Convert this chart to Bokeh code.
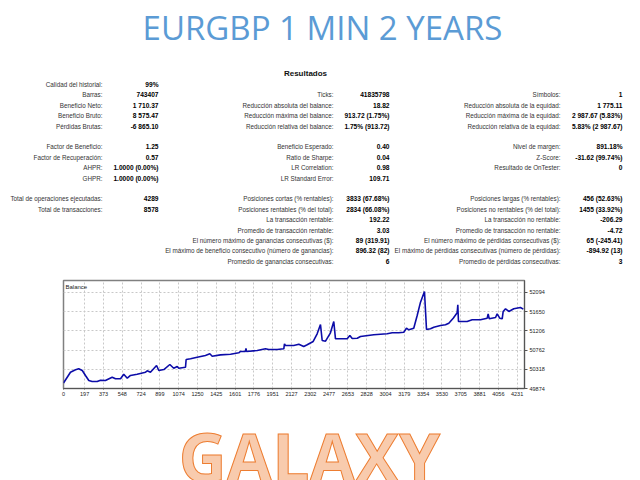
from bokeh.plotting import figure
from bokeh.models import Label, FixedTicker, Range1d, ColumnDataSource
from bokeh.layouts import column
from bokeh.core.properties import value
from bokeh.embed import file_html
from bokeh.resources import INLINE

# ---------------- data ----------------
trade_no = [0, 65, 112, 142, 175, 205, 236, 267, 314, 346, 391, 454, 485, 532, 562, 595, 625,
            687, 765, 781, 811, 868, 889, 936, 992, 1028, 1061, 1075, 1138, 1144, 1185, 1247,
            1324, 1365, 1387, 1464, 1558, 1635, 1651, 1697, 1702, 1707, 1807, 1884, 1915, 1993,
            2055, 2061, 2070, 2148, 2195, 2241, 2273, 2329, 2366, 2397, 2413, 2444, 2490, 2521,
            2537, 2646, 2671, 2693, 2740, 2770, 2894, 3019, 3066, 3127, 3174, 3199, 3221, 3267,
            3299, 3330, 3367, 3386, 3423, 3454, 3516, 3563, 3594, 3635, 3672, 3678, 3684, 3765,
            3812, 3889, 3952, 3961, 3971, 4030, 4045, 4069, 4092, 4101, 4123, 4154, 4200, 4262, 4289]
balance = [50000, 50251, 50306, 50330, 50290, 50175, 50059, 50036, 50036, 50066, 50059, 50135,
           50098, 50098, 50205, 50112, 50175, 50205, 50251, 50283, 50251, 50406, 50290, 50313,
           50429, 50343, 50383, 50343, 50366, 50545, 50561, 50598, 50637, 50676, 50620, 50652,
           50667, 50700, 50730, 50730, 50799, 50730, 50753, 50792, 50776, 50776, 50792, 50908,
           50868, 50868, 50898, 50845, 50884, 50961, 51139, 51354, 50984, 50968, 51162, 51423,
           51023, 51023, 51100, 51030, 51037, 51076, 51116, 51139, 51162, 51162, 51176, 51268,
           51231, 51268, 51562, 51870, 52117, 51238, 51255, 51292, 51331, 51347, 51384, 51500,
           51625, 51810, 51423, 51423, 51463, 51463, 51500, 51601, 51486, 51516, 51601, 51500,
           51486, 51655, 51717, 51655, 51717, 51747, 51710]

x_ticks = [0, 197, 373, 548, 724, 899, 1074, 1250, 1425, 1601, 1776, 1951, 2127, 2302, 2477,
           2653, 2828, 3004, 3179, 3354, 3530, 3705, 3881, 4056, 4231]
y_ticks = [49874, 50318, 50762, 51206, 51650, 52094]

page_title = "EURGBP 1 MIN 2 YEARS"
section_title = "Resultados"
chart_title = "Balance"
brand = "GALAXY"

col1_labels = ["Calidad del historial:", "Barras:", "Beneficio Neto:", "Beneficio Bruto:",
               "Pérdidas Brutas:", "", "Factor de Beneficio:", "Factor de Recuperación:",
               "AHPR:", "GHPR:", "", "Total de operaciones ejecutadas:", "Total de transacciones:"]
col1_values = ["99%", "743407", "1 710.37", "8 575.47", "-6 865.10", "", "1.25", "0.57",
               "1.0000 (0.00%)", "1.0000 (0.00%)", "", "4289", "8578"]

col2_labels = ["", "Ticks:", "Reducción absoluta del balance:", "Reducción máxima del balance:",
               "Reducción relativa del balance:", "", "Beneficio Esperado:", "Ratio de Sharpe:",
               "LR Correlation:", "LR Standard Error:", "", "Posiciones cortas (% rentables):",
               "Posiciones rentables (% del total):", "La transacción rentable:",
               "Promedio de transacción rentable:", "El número máximo de ganancias consecutivas ($):",
               "El máximo de beneficio consecutivo (número de ganancias):",
               "Promedio de ganancias consecutivas:"]
col2_values = ["", "41835798", "18.82", "913.72 (1.75%)", "1.75% (913.72)", "", "0.40", "0.04",
               "0.98", "109.71", "", "3833 (67.68%)", "2834 (66.08%)", "192.22", "3.03",
               "89 (319.91)", "896.32 (82)", "6"]

col3_labels = ["", "Símbolos:", "Reducción absoluta de la equidad:", "Reducción máxima de la equidad:",
               "Reducción relativa de la equidad:", "", "Nivel de margen:", "Z-Score:",
               "Resultado de OnTester:", "", "", "Posiciones largas (% rentables):",
               "Posiciones no rentables (% del total):", "La transacción no rentable:",
               "Promedio de transacción no rentable:", "El número máximo de pérdidas consecutivas ($):",
               "El máximo de pérdidas consecutivas (número de pérdidas):",
               "Promedio de pérdidas consecutivas:"]
col3_values = ["", "1", "1 775.11", "2 987.67 (5.83%)", "5.83% (2 987.67)", "", "891.18%",
               "-31.62 (99.74%)", "0", "", "", "456 (52.63%)", "1455 (33.92%)", "-206.29",
               "-4.72", "65 (-245.41)", "-894.92 (13)", "3"]

W = 640


def blank_fig(height, y_top, y_bottom):
    f = figure(width=W, height=height, x_range=Range1d(0, W), y_range=Range1d(y_bottom, y_top),
               output_backend="svg", toolbar_location=None, x_axis_location=None,
               y_axis_location=None, min_border=0, frame_align=False)
    f.outline_line_color = None
    f.background_fill_color = "white"
    f.border_fill_color = "white"
    f.xgrid.visible = False
    f.ygrid.visible = False
    return f


# ---------------- top: title + table ----------------
top = blank_fig(278, 0, 278)
top.text(x=[322], y=[27], text=[page_title], text_font=value("Open Sans"),
         text_font_size="33px", text_color="#5B9BD5", text_align="center",
         text_baseline="alphabetic")
top.text(x=[305], y=[72.5], text=[section_title], text_font=value("Liberation Sans"),
         text_font_size="8px", text_font_style="bold", text_color="#111111",
         text_align="center", text_baseline="middle")

lab_x, lab_y, lab_t, val_x, val_y, val_t = [], [], [], [], [], []
for labels, values, lx, vx in [(col1_labels, col1_values, 102, 158),
                               (col2_labels, col2_values, 333, 389),
                               (col3_labels, col3_values, 560, 622)]:
    for k, (lab, val) in enumerate(zip(labels, values)):
        yy = 84 + 10.4 * k
        if lab:
            lab_x.append(lx); lab_y.append(yy); lab_t.append(lab)
        if val:
            val_x.append(vx); val_y.append(yy); val_t.append(val)

top.text(x="x", y="y", text="t", source=ColumnDataSource(dict(x=lab_x, y=lab_y, t=lab_t)),
         text_font=value("Liberation Sans"), text_font_size="6.3px", text_color="#333333",
         text_align="right", text_baseline="middle")
top.text(x="x", y="y", text="t", source=ColumnDataSource(dict(x=val_x, y=val_y, t=val_t)),
         text_font=value("Liberation Sans"), text_font_size="6.6px", text_font_style="bold",
         text_color="#000000", text_align="right", text_baseline="middle")

# ---------------- middle: balance chart ----------------
p = figure(width=W, height=124, x_range=Range1d(0, 4300), y_range=Range1d(49874, 52371),
           output_backend="svg", toolbar_location=None, y_axis_location="right",
           min_border_left=63, min_border_right=116, min_border_top=2, min_border_bottom=14,
           frame_align=False)
p.background_fill_color = "white"
p.border_fill_color = "white"
p.outline_line_color = "#808080"
p.outline_line_width = 1.5

p.line(trade_no, balance, line_color="#0c0ca8", line_width=1.6)

p.xaxis.ticker = FixedTicker(ticks=x_ticks)
p.yaxis.ticker = FixedTicker(ticks=y_ticks)
for ax in (p.xaxis[0], p.yaxis[0]):
    ax.major_label_text_font = "Liberation Sans"
    ax.major_label_text_font_size = "5.5px"
    ax.major_label_text_color = "#222222"
    ax.axis_line_color = "#555555"
    ax.major_tick_line_color = "#555555"
    ax.minor_tick_line_color = None
    ax.major_tick_in = 0
p.xaxis.major_tick_out = 1
p.xaxis.major_label_standoff = 2
p.yaxis.major_tick_out = 3
p.yaxis.major_label_standoff = 2
p.xgrid.grid_line_color = "#c8c8c8"
p.ygrid.grid_line_color = "#c8c8c8"
p.xgrid.grid_line_dash = "2 2"
p.ygrid.grid_line_dash = "2 2"
p.add_layout(Label(x=2, y=102, x_units="screen", y_units="screen", text=chart_title,
                   text_font="Liberation Sans", text_font_size="6px", text_color="#222222",
                   text_align="left", text_baseline="middle"))

# ---------------- bottom: brand ----------------
bottom = blank_fig(78, 402, 480)
bottom.text(x=[309], y=[455], text=[brand], text_font=value("Open Sans"),
            text_font_size="66px", text_font_style="bold", text_color="#F8CBAD",
            text_outline_color="#ED7D31", text_align="center", text_baseline="alphabetic")

layout = column(top, p, bottom, spacing=0)
open("out.html", "w").write(file_html(layout, INLINE))
